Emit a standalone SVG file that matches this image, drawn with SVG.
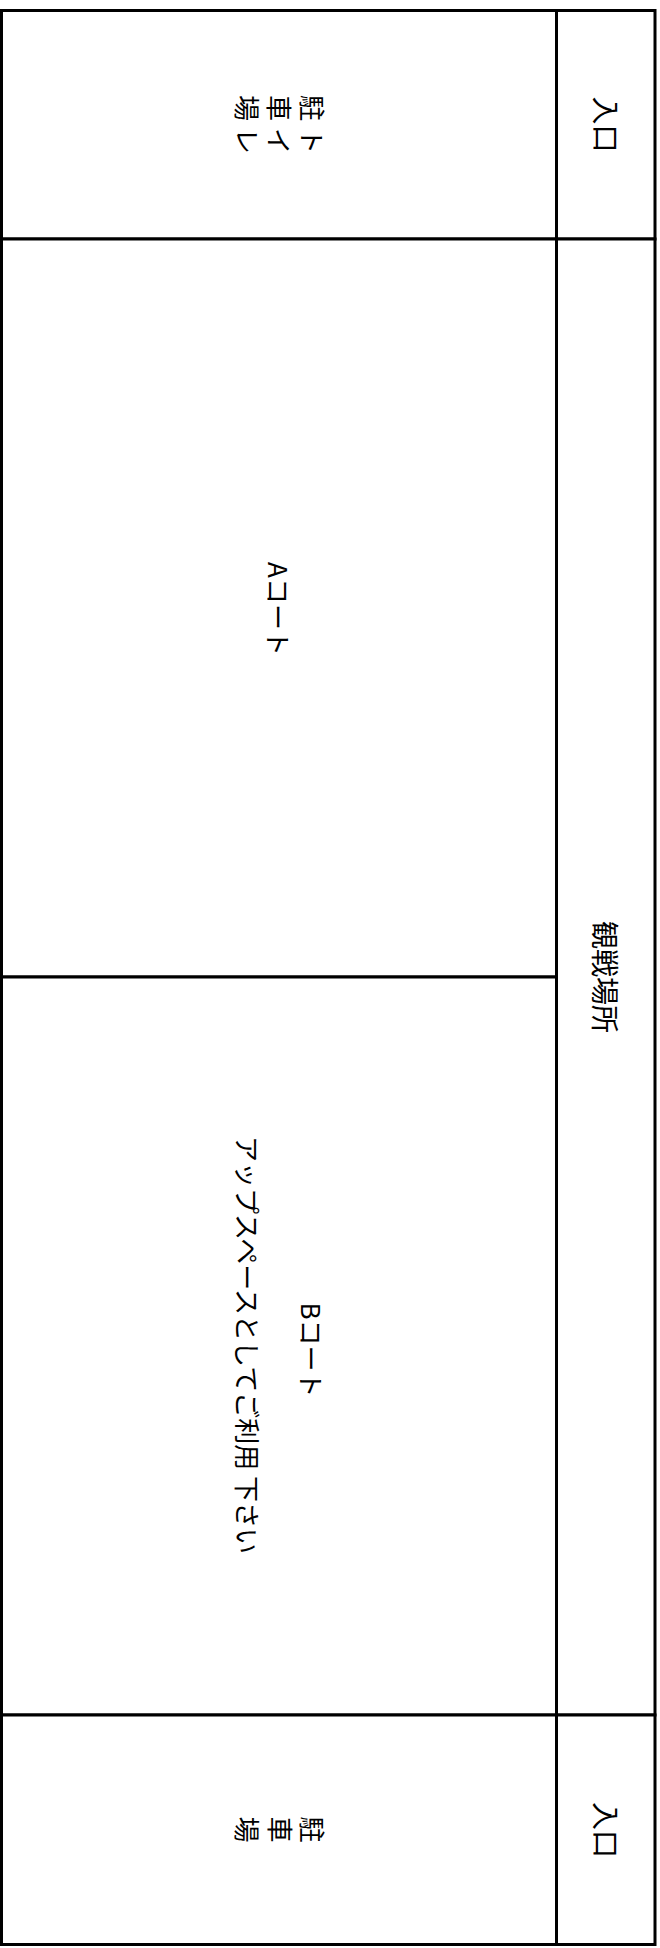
<svg xmlns="http://www.w3.org/2000/svg" width="660" height="1948" viewBox="0 0 660 1948">
<style>
.cell{fill:#ffffff;stroke:#000000;stroke-width:3}
.t{font-family:"Noto Sans CJK JP","Noto Sans",sans-serif;fill:#000000}
.f26{font-size:26px}
.f28{font-size:28px}
</style>
<rect x="0" y="0" width="660" height="1948" fill="#ffffff"/>
<g id="parking-toilet">
<rect class="cell" x="1.5" y="10.5" width="555" height="228.5"/>
<text class="t f26" x="301.6 269.1 236.6" y="95 95 95" rotate="90">駐車場</text>
<text class="t f26" x="301.6 269.1 236.6" y="128 128 128" rotate="90">トイレ</text>
</g>
<g id="entrance-top">
<rect class="cell" x="556.5" y="10.5" width="98.5" height="228.5"/>
<text class="t f28" x="605.5" y="135.1" text-anchor="middle" transform="rotate(90 605.5 124.5)">入口</text>
</g>
<g id="court-a">
<rect class="cell" x="1.5" y="239" width="555" height="738"/>
<text class="t f26" x="278" y="618.9" text-anchor="middle" transform="rotate(90 278 609)">Aコート</text>
</g>
<g id="court-b">
<rect class="cell" x="1.5" y="977" width="555" height="738"/>
<text class="t f26" transform="rotate(90 279 1347)" text-anchor="middle"><tspan x="282" y="1324.9">Bコート</tspan><tspan x="277" y="1388.9">アップスペースとしてご利用 下さい</tspan></text>
</g>
<g id="spectator">
<rect class="cell" x="556.5" y="239" width="98.5" height="1476"/>
<text class="t f28" x="605" y="987.6" text-anchor="middle" transform="rotate(90 605 977)">観戦場所</text>
</g>
<g id="parking">
<rect class="cell" x="1.5" y="1715" width="555" height="229.5"/>
<text class="t f26" x="301.6 269.6 236.6" y="1816.5 1816.5 1816.5" rotate="90">駐車場</text>
</g>
<g id="entrance-bottom">
<rect class="cell" x="556.5" y="1715" width="98.5" height="229.5"/>
<text class="t f28" x="605.5" y="1840.6" text-anchor="middle" transform="rotate(90 605.5 1830)">入口</text>
</g>
<g id="connectors"></g>
</svg>
